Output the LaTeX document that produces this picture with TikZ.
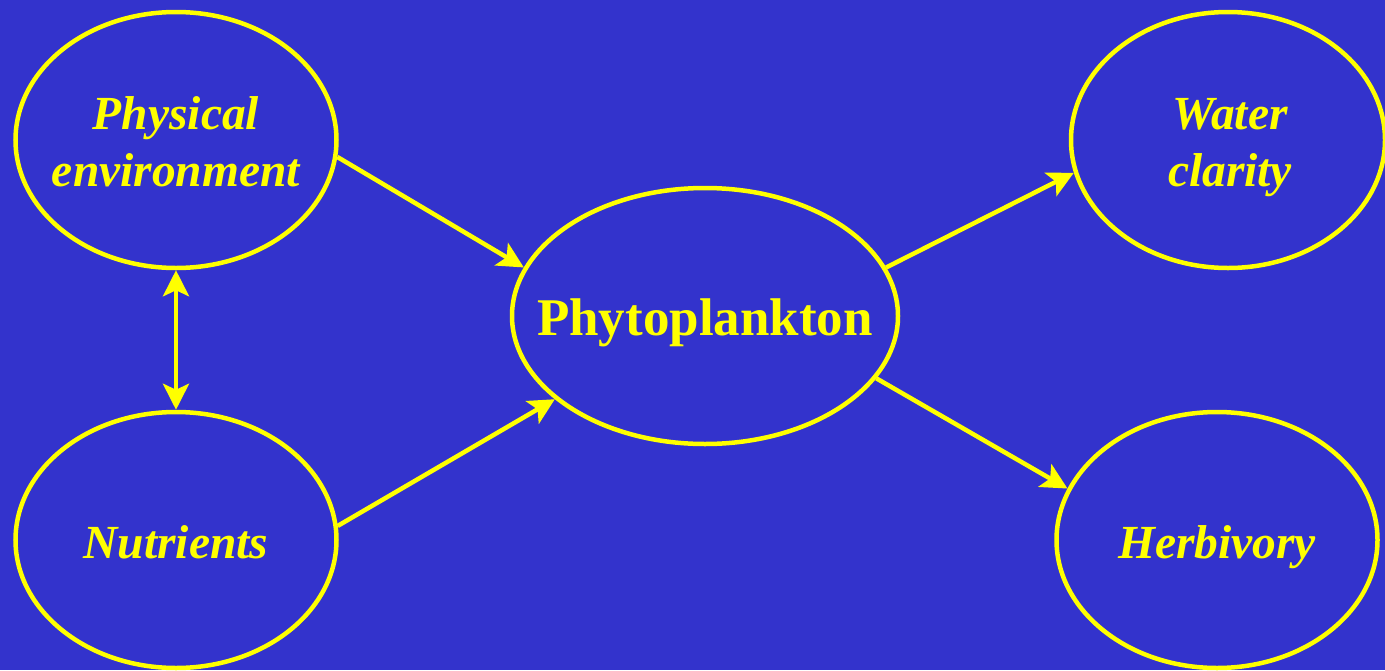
\documentclass[tikz,border=0pt]{standalone}
\usepackage{fontspec}
\setmainfont{Liberation Serif}
\usetikzlibrary{shapes.geometric,arrows.meta}
\definecolor{bg}{RGB}{51,51,204}
\definecolor{yel}{RGB}{255,255,0}
\newcommand{\zw}[1]{\makebox[0pt]{\raisebox{-7pt}[\height][\depth]{\begin{tabular}{@{}c@{}}#1\end{tabular}}}}
\tikzset{
  oval/.style={ellipse, draw=yel, line width=4.5pt, inner sep=0pt, text=yel,
    minimum width=321pt, minimum height=256pt,
    font=\fontsize{47.5}{57}\selectfont\bfseries\itshape},
  tip/.tip={Stealth[length=26pt,width=26pt,inset=6pt]},
  link/.style={yel, line width=4.5pt, -tip},
  twoway/.style={yel, line width=4.5pt, tip-tip}
}
\begin{document}
\begin{tikzpicture}[x=1pt,y=-1pt]
\fill[bg] (0,0) rectangle (1385,670);
\useasboundingbox (0,0) rectangle (1385,670);
\node[oval] (phys) at (176,140) {\zw{Physical\\environment}};
\node[oval] (nutr) at (176,540) {\zw{Nutrients}};
\node[oval, minimum width=386pt, font=\fontsize{53}{60}\selectfont\bfseries] (phyto) at (705,316) {\zw{Phytoplankton}};
\node[oval, minimum width=314pt] (water) at (1228,140) {\hspace{4pt}\zw{Water\\clarity}};
\node[oval] (herb) at (1217,540) {\zw{Herbivory}};
\draw[link] (phys.-6) -- (phyto.165);
\draw[link] (nutr.5.7) -- (phyto.209);
\draw[link] (phyto.15.5) -- (water.192.5);
\draw[link] (phyto.-20.2) -- (herb.161.2);
\draw[twoway] (phys.south) -- (nutr.north);
\end{tikzpicture}
\end{document}
